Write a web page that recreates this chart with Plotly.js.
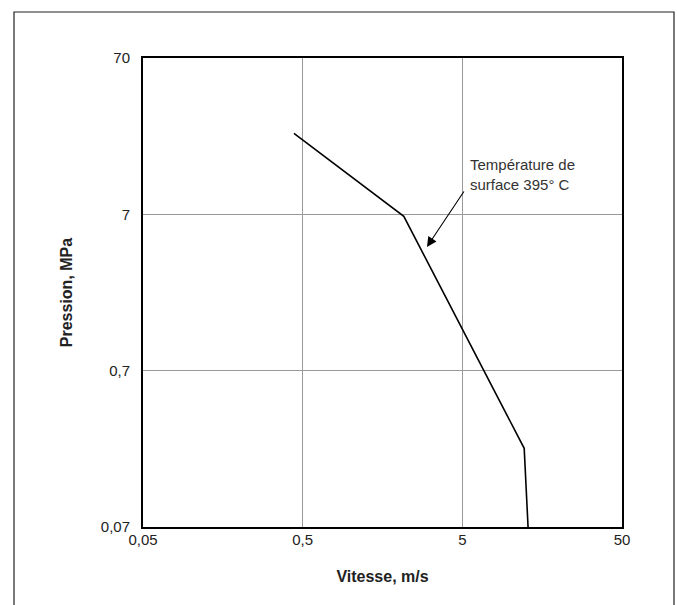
<!DOCTYPE html>
<html>
<head>
<meta charset="utf-8">
<script src="https://cdn.plot.ly/plotly-3.0.1.min.js"></script>
<style>html,body{margin:0;padding:0;background:#fff;}#chart{width:677px;height:605px;}</style>
</head>
<body>
<div id="chart"></div>
<script>
// Data (log-log)
const vitesse = [0.441, 2.15, 12.2, 12.9];      // m/s
const pression = [23.1, 6.8, 0.223, 0.07];      // MPa
const xTickVals = [0.05, 0.5, 5, 50];
const xTickText = ['0,05', '0,5', '5', '50'];
const yTickVals = [0.07, 0.7, 7, 70];
const yTickText = ['0,07', '0,7', '7', '70'];
const noteText = 'Température de<br>surface 395° C';
const arrowTip = [3.0, 4.33];

const FONT = '"Liberation Sans Narrow", "Arial Narrow", "Liberation Sans", Arial, sans-serif';

const W = 677, H = 605;
const M = {l: 143, r: 55, t: 58, b: 78};
const pw = W - M.l - M.r, ph = H - M.t - M.b;
const px2x = p => (p - M.l) / pw;
const py2y = p => (H - M.b - p) / ph;

const trace = {
  x: vitesse, y: pression, type: 'scatter', mode: 'lines',
  line: {color: '#000', width: 1.6}, hoverinfo: 'skip', showlegend: false
};

const layout = {
  width: W, height: H,
  margin: M,
  paper_bgcolor: '#fff', plot_bgcolor: '#fff',
  font: {family: FONT, size: 15, color: '#222'},
  xaxis: {
    type: 'log', range: [Math.log10(0.05), Math.log10(50)],
    tickvals: xTickVals, ticktext: xTickText, ticks: '',
    showgrid: true, gridcolor: '#999', gridwidth: 1,
    showline: true, linecolor: '#000', linewidth: 2, mirror: true,
    zeroline: false, tickfont: {family: FONT, size: 15, color: '#222'},
    ticklabelstandoff: -2,
    title: {text: '<b>Vitesse, m/s</b>', font: {family: FONT, size: 16, color: '#222'}, standoff: 24},
    fixedrange: true
  },
  yaxis: {
    type: 'log', range: [Math.log10(0.07), Math.log10(70)],
    tickvals: yTickVals, ticktext: yTickText, ticks: '',
    showgrid: true, gridcolor: '#999', gridwidth: 1,
    showline: true, linecolor: '#000', linewidth: 2, mirror: true,
    zeroline: false, tickfont: {family: FONT, size: 15, color: '#222'},
    ticklabelstandoff: 8,
    title: {text: '<b>Pression, MPa</b>', font: {family: FONT, size: 16, color: '#222'}, standoff: 24},
    fixedrange: true
  },
  annotations: [
    {
      x: Math.log10(arrowTip[0]), y: Math.log10(arrowTip[1]), xref: 'x', yref: 'y',
      text: '', showarrow: true, arrowhead: 2, arrowsize: 1.8, arrowwidth: 1.1,
      arrowcolor: '#000', ax: 38, ay: -57, standoff: 0
    },
    {
      x: px2x(468), y: py2y(174), xref: 'paper', yref: 'paper',
      xanchor: 'left', yanchor: 'middle', align: 'left', showarrow: false,
      text: noteText, font: {family: FONT, size: 15, color: '#333'}
    }
  ],
  shapes: [
    {
      type: 'path', xref: 'paper', yref: 'paper',
      path: 'M ' + px2x(14) + ' ' + py2y(640) + ' L ' + px2x(14) + ' ' + py2y(12) +
            ' L ' + px2x(674) + ' ' + py2y(12) + ' L ' + px2x(674) + ' ' + py2y(640),
      line: {color: '#222', width: 1.2}
    }
  ]
};

Plotly.newPlot('chart', [trace], layout, {displayModeBar: false, staticPlot: true});
</script>
</body>
</html>
